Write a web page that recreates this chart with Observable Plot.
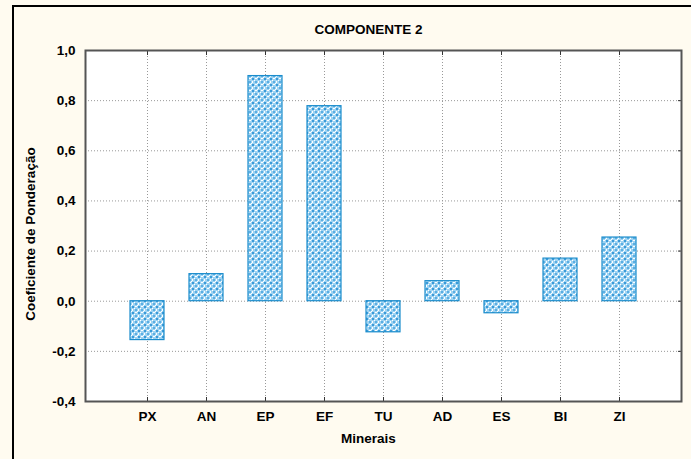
<!DOCTYPE html>
<html>
<head>
<meta charset="utf-8">
<script src="https://cdn.jsdelivr.net/npm/d3@7"></script>
<script src="https://cdn.jsdelivr.net/npm/@observablehq/plot@0.6"></script>
<style>
  html, body { margin: 0; padding: 0; background: #fffbf0; }
  #chart { position: relative; width: 691px; height: 459px; }
</style>
</head>
<body>
<div id="chart"></div>
<script>
const minerais = ["PX", "AN", "EP", "EF", "TU", "AD", "ES", "BI", "ZI"];
const coeficientes = [-0.155, 0.108, 0.898, 0.778, -0.124, 0.08, -0.048, 0.17, 0.254];
const yTicks = [-0.4, -0.2, 0.0, 0.2, 0.4, 0.6, 0.8, 1.0];

const data = minerais.map((m, i) => ({mineral: m, valor: coeficientes[i]}));
const fmt = d => d.toFixed(1).replace(".", ",");
const font = "'Liberation Sans', Arial, sans-serif";
const fs = 13.5;

const plot = Plot.plot({
  width: 691,
  height: 459,
  marginLeft: 85,
  marginRight: 10,
  marginTop: 50,
  marginBottom: 58,
  style: {fontFamily: font, fontSize: fs + "px", fontWeight: "bold", color: "#000", background: "#fffbf0", overflow: "visible"},
  x: {domain: minerais, paddingInner: 0.43, paddingOuter: 0.715, label: null},
  y: {domain: [-0.4, 1.0], label: null},
  marks: [
    Plot.frame({fill: "white", stroke: "none"}),
    Plot.gridY(yTicks.filter(t => t > -0.4 && t < 1.0), {stroke: "#999", strokeOpacity: 1, strokeDasharray: "1,2"}),
    Plot.gridX(minerais, {stroke: "#999", strokeOpacity: 1, strokeDasharray: "1,2"}),
    Plot.barY(data, {x: "mineral", y: "valor", fill: "url(#hatch)", stroke: "#1a8ccc", strokeWidth: 1.2}),
    Plot.axisY(yTicks, {tickSize: 0, tickPadding: 10, tickFormat: fmt, fontSize: fs, fontWeight: "bold", fill: "#000"}),
    Plot.axisY(yTicks, {anchor: "right", tickSize: -4, tickFormat: () => "", stroke: "#333"}),
    Plot.axisX(minerais, {anchor: "bottom", tickSize: -4, tickPadding: 14, fontSize: fs, fontWeight: "bold", fill: "#000", stroke: "#333"}),
    Plot.axisX(minerais, {anchor: "top", tickSize: -4, tickFormat: () => "", stroke: "#333"}),
    Plot.frame({stroke: "#555", strokeWidth: 2}),
    Plot.text(["COMPONENTE 2"], {frameAnchor: "top", dx: -15, dy: -26, fontSize: fs, fontWeight: "bold", fill: "#000"}),
    Plot.text(["Minerais"], {frameAnchor: "bottom", dx: -15, dy: 41, fontSize: fs, fontWeight: "bold", fill: "#000"}),
    Plot.text(["Coeficiente de Ponderação"], {frameAnchor: "left", dx: -55, dy: 8, rotate: -90, textAnchor: "middle", fontSize: fs, fontWeight: "bold", fill: "#000"})
  ]
});

// pattern definition
const ns = "http://www.w3.org/2000/svg";
const defs = document.createElementNS(ns, "defs");
defs.innerHTML = `
  <pattern id="hatch" patternUnits="userSpaceOnUse" width="6" height="6">
    <rect width="6" height="6" fill="#9fd3f2"/>
    <rect x="0" y="0" width="2" height="2" fill="#3a9ad8"/>
    <rect x="3" y="3" width="2" height="2" fill="#5aaee2"/>
    <rect x="3" y="0" width="2" height="1" fill="#ffffff"/>
    <rect x="0" y="3" width="1" height="2" fill="#ffffff"/>
    <rect x="2" y="2" width="1" height="1" fill="#ffffff"/>
    <rect x="5" y="5" width="1" height="1" fill="#ffffff"/>
  </pattern>`;
plot.insertBefore(defs, plot.firstChild);

// outer frame (figure border)
const border = document.createElementNS(ns, "path");
border.setAttribute("d", "M13,470 L13,6 L700,6");
border.setAttribute("fill", "none");
border.setAttribute("stroke", "#000");
border.setAttribute("stroke-width", "2");
plot.appendChild(border);

document.getElementById("chart").appendChild(plot);
</script>
</body>
</html>
